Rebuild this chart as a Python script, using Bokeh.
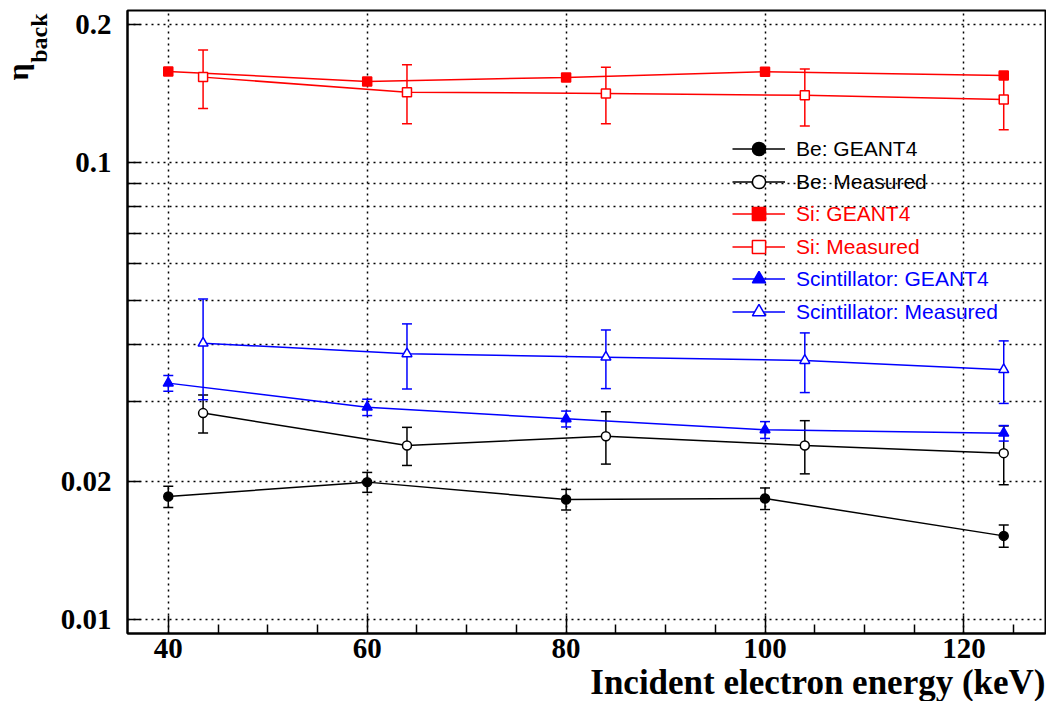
from bokeh.plotting import figure
from bokeh.models import (ColumnDataSource, Range1d, FixedTicker, Whisker, TeeHead,
                          Legend, LegendItem, Title)
from bokeh.embed import file_html
from bokeh.resources import INLINE

# ---------------- data ----------------
energy_sim = [40, 60, 80, 100, 124]
energy_meas = [43.5, 64, 84, 104, 124]

be_sim = [0.01858, 0.01998, 0.01831, 0.0184, 0.01524]
be_sim_err = [0.0010, 0.0010, 0.00095, 0.0010, 0.00085]
be_meas = [0.02829, 0.02403, 0.02518, 0.02403, 0.02312]
be_meas_err = [0.0027, 0.0023, 0.0033, 0.0032, 0.0034]

si_sim = [0.1582, 0.1504, 0.1535, 0.158, 0.155]
si_meas = [0.1537, 0.1425, 0.1416, 0.1402, 0.1374]
si_meas_err = [0.0225, 0.021, 0.020, 0.020, 0.0195]

sc_sim = [0.0329, 0.02914, 0.02748, 0.0260, 0.02557]
sc_sim_err = [0.0013, 0.0012, 0.0011, 0.0011, 0.0010]
sc_meas = [0.04024, 0.03814, 0.0375, 0.03687, 0.0352]
sc_meas_err = [0.0100, 0.0062, 0.0055, 0.0055, 0.0055]

x_major = [40, 60, 80, 100, 120]
x_minor = [35, 45, 50, 55, 65, 70, 75, 85, 90, 95, 105, 110, 115, 125]
y_major = [0.01, 0.02, 0.1, 0.2]
y_minor = [0.03, 0.04, 0.05, 0.06, 0.07, 0.08, 0.09]
y_labels = {0.01: "0.01", 0.02: "0.02", 0.1: "0.1", 0.2: "0.2"}

legend_be = ["Be: GEANT4", "Be: Measured"]
legend_si = ["Si: GEANT4", "Si: Measured"]
legend_sc = ["Scintillator: GEANT4", "Scintillator: Measured"]

x_title = "Incident electron energy (keV)"
y_title_main = "\u03b7"
y_title_sub = "back"

# ---------------- figure ----------------
p = figure(width=1046, height=701, y_axis_type="log",
           x_range=Range1d(35.9, 128.2), y_range=Range1d(0.00932, 0.215),
           output_backend="svg", toolbar_location=None,
           min_border_left=127, min_border_right=1, min_border_top=10, min_border_bottom=68)
p.outline_line_color = "black"
p.outline_line_width = 2
p.background_fill_color = "white"
p.border_fill_color = "white"

SERIF = "Liberation Serif"
SANS = "Liberation Sans"

p.xaxis.ticker = FixedTicker(ticks=x_major, minor_ticks=x_minor)
p.yaxis.ticker = FixedTicker(ticks=y_major, minor_ticks=y_minor)
p.yaxis.major_label_overrides = y_labels

for ax in (p.xaxis[0], p.yaxis[0]):
    ax.axis_line_width = 2
    ax.axis_line_color = "black"
    ax.major_tick_out = 0
    ax.minor_tick_out = 0
    ax.major_tick_line_width = 1.5
    ax.minor_tick_line_width = 1.5
    ax.major_label_text_font = SERIF
    ax.major_label_text_font_style = "bold"
    ax.major_label_text_font_size = "29px"
    ax.major_label_text_color = "black"

p.xaxis.major_tick_in = 18
p.xaxis.minor_tick_in = 9
p.xaxis.major_label_standoff = 5
p.yaxis.major_tick_in = 13
p.yaxis.minor_tick_in = 13
p.yaxis.major_label_standoff = 16

# axis titles as Title panels (right/top aligned like the original)
p.add_layout(Title(text=x_title, align="right", offset=0, standoff=0,
                   text_font=SERIF, text_font_style="bold", text_font_size="35px",
                   text_color="black"), "below")
p.add_layout(Title(text=y_title_sub, align="right", offset=3, standoff=12,
                   text_font=SERIF, text_font_style="bold", text_font_size="24px",
                   text_color="black"), "left")
p.add_layout(Title(text=y_title_main, align="right", offset=53, standoff=-32,
                   text_font=SERIF, text_font_style="bold", text_font_size="30px",
                   text_color="black"), "left")

for g in (p.xgrid[0], p.ygrid[0]):
    g.grid_line_color = "black"
    g.grid_line_dash = "2 4"
    g.grid_line_width = 1.5
p.ygrid.minor_grid_line_color = "black"
p.ygrid.minor_grid_line_dash = "2 4"
p.ygrid.minor_grid_line_width = 1.5
p.xgrid.minor_grid_line_color = None


def series(xs, ys, errs, color, marker, filled):
    src = ColumnDataSource(dict(x=xs, y=ys))
    if errs is not None:
        src.data["lo"] = [a - b for a, b in zip(ys, errs)]
        src.data["hi"] = [a + b for a, b in zip(ys, errs)]
        w = Whisker(source=src, base="x", lower="lo", upper="hi",
                    line_color=color, line_width=1.5,
                    upper_head=TeeHead(size=10, line_color=color, line_width=1.5),
                    lower_head=TeeHead(size=10, line_color=color, line_width=1.5))
        p.add_layout(w)
    ln = p.line("x", "y", source=src, line_color=color, line_width=1.5)
    sc = p.scatter("x", "y", source=src, marker=marker,
                   size=10 if marker == "triangle" else 9,
                   line_color=color, line_width=1.5,
                   fill_color=color if filled else "white")
    return [ln, sc]


r_be_sim = series(energy_sim, be_sim, be_sim_err, "black", "circle", True)
r_be_meas = series(energy_meas, be_meas, be_meas_err, "black", "circle", False)
r_si_sim = series(energy_sim, si_sim, None, "red", "square", True)
r_si_meas = series(energy_meas, si_meas, si_meas_err, "red", "square", False)
r_sc_sim = series(energy_sim, sc_sim, sc_sim_err, "blue", "triangle", True)
r_sc_meas = series(energy_meas, sc_meas, sc_meas_err, "blue", "triangle", False)


def make_legend(labels, rends, color, y):
    items = [LegendItem(label=l, renderers=r) for l, r in zip(labels, rends)]
    lg = Legend(items=items, location=(605, y), orientation="vertical",
                glyph_width=53, glyph_height=33, label_height=33, spacing=0,
                padding=0, margin=0, label_standoff=11,
                label_text_font=SANS, label_text_font_size="21px",
                label_text_color=color, border_line_alpha=0,
                background_fill_alpha=0)
    p.add_layout(lg)


make_legend(legend_be, [r_be_sim, r_be_meas], "black", 435)
make_legend(legend_si, [r_si_sim, r_si_meas], "red", 370)
make_legend(legend_sc, [r_sc_sim, r_sc_meas], "blue", 305)

open("out.html", "w").write(file_html(p, INLINE))
